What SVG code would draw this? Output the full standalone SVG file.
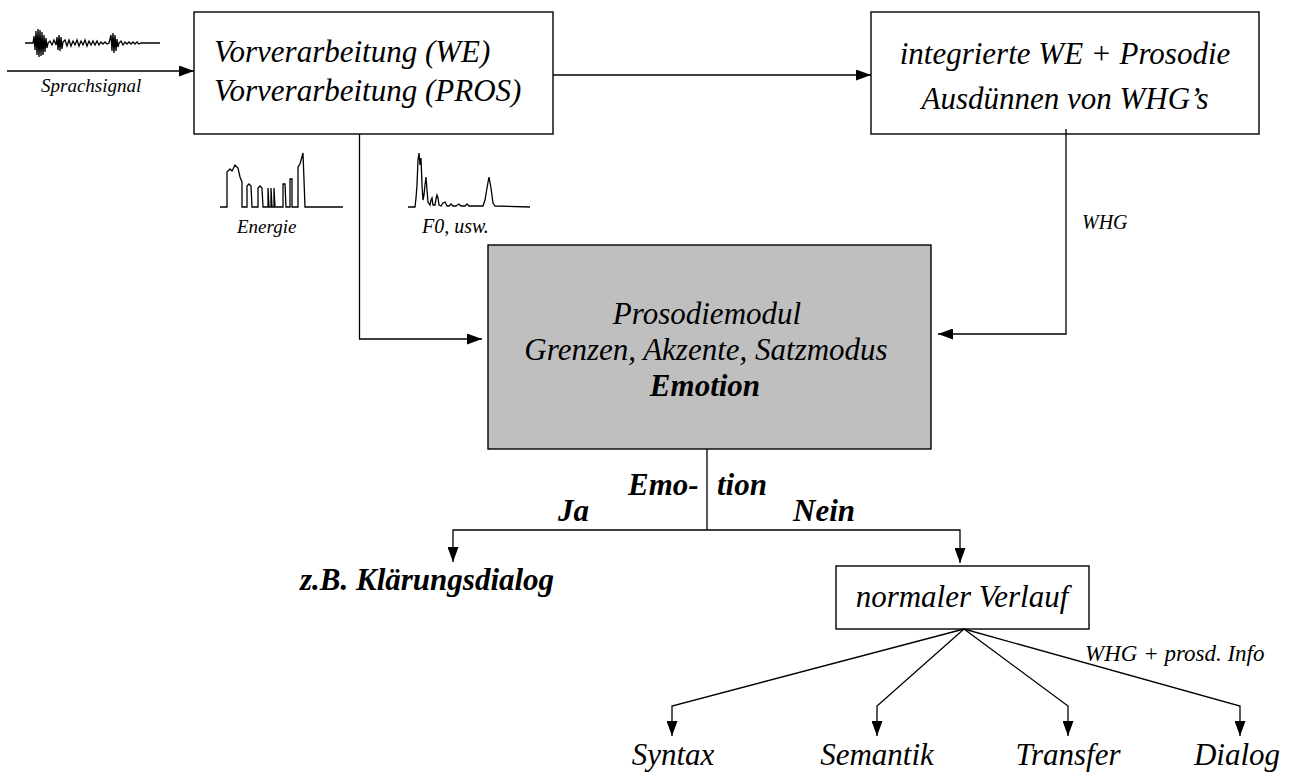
<svg xmlns="http://www.w3.org/2000/svg" width="1294" height="776" viewBox="0 0 1294 776">
  <style>
    .box { fill: #ffffff; stroke: #000000; stroke-width: 1.4; }
    .gray { fill: #bfbfbf; stroke: #000000; stroke-width: 1.4; }
    .line { fill: none; stroke: #000000; stroke-width: 1.3; }
    .wave { fill: none; stroke: #000000; stroke-width: 1.3; stroke-linejoin: miter; }
    text { font-family: 'Liberation Serif', 'Times New Roman', serif; font-style: italic; fill: #000000; }
    .big { font-size: 31px; }
    .bold { font-weight: bold; }
    .small { font-size: 20px; }
  </style>
  <defs>
    <marker id="arrow" markerUnits="userSpaceOnUse" markerWidth="15" markerHeight="11" refX="15" refY="5.5" orient="auto">
      <path d="M0,0 L15,5.5 L0,11 z" fill="#000000"/>
    </marker>
  </defs>
  <rect width="1294" height="776" fill="#ffffff"/>

  <!-- input speech signal -->
  <g id="signal">
    <path class="wave" stroke-width="2.4" d="M25,43 L33,43 L34,36 L35,50 L36,31 L37,55 L38,29 L39,57 L40,30 L41,56 L42,32 L43,55 L44,35 L45,52 L46,38 L47,48 L48,43 L50,41 L52,45 L54,40 L56,45 L57,37 L58,50 L59,35 L60,51 L61,37 L62,49 L63,42 L65,40 L67,46 L69,40 L71,46 L73,41 L75,45 L77,40 L79,46 L81,41 L83,45 L85,40 L87,46 L89,41 L91,45 L93,41 L95,45 L97,41 L99,45 L101,42 L103,44 L105,42 L107,44 L109,43 L110,39 L111,35 L112,51 L113,33 L114,53 L115,35 L116,51 L117,39 L118,47 L119,43 L121,41 L123,45 L125,42 L127,44 L129,42 L131,44 L133,42 L135,44 L137,42 L139,44 L141,43 L160,43"/>
    <text x="41" y="92" font-size="19">Sprachsignal</text>
  </g>

  <!-- preprocessing -->
  <g id="vorverarbeitung">
    <rect class="box" x="194" y="12" width="359" height="122"/>
    <text class="big" x="214" y="62">Vorverarbeitung (WE)</text>
    <text class="big" x="214" y="101">Vorverarbeitung (PROS)</text>
  </g>

  <!-- integrated word recognition + prosody -->
  <g id="integriert">
    <rect class="box" x="871" y="12" width="388" height="122"/>
    <text class="big" x="1065" y="64" text-anchor="middle">integrierte WE + Prosodie</text>
    <text class="big" x="1065" y="109" text-anchor="middle">Ausdünnen von WHG’s</text>
  </g>

  <!-- energy contour -->
  <g id="energie">
    <path class="wave" d="M220,207 L227,207 L227,172 L230,169 L232,171 L235,165 L238,168 L240,177 L242,182 L242,207 L247,207 L247,186 L249,184 L251,186 L252,207 L258,207 L258,188 L260,186 L262,188 L263,207 L268,207 L268,188 L269,207 L271,207 L271,188 L272,207 L274,207 L274,188 L275,207 L283,207 L283,184 L285,184 L286,207 L290,207 L290,179 L292,179 L292,207 L298,207 L298,167 L300,164 L303,153 L305,207 L343,207"/>
    <text x="237" y="233" font-size="19">Energie</text>
  </g>

  <!-- F0 contour -->
  <g id="f0">
    <path class="wave" d="M408,207 L415,207 L416,198 L417,185 L418,160 L419,153 L420,165 L421,158 L422,185 L423,200 L424,195 L425,185 L426,177 L427,190 L428,202 L430,205 L431,200 L432,198 L433,205 L435,205 L436,199 L437,195 L438,198 L439,205 L441,206 L443,203 L445,202 L447,206 L449,206 L451,204 L453,206 L456,206 L459,204 L461,206 L465,206 L467,204 L469,206 L483,206 L485,200 L487,188 L489,177 L491,188 L493,203 L495,206 L530,207"/>
    <text class="small" x="422" y="233">F0, usw.</text>
  </g>

  <!-- prosody module -->
  <g id="prosodiemodul">
    <rect class="gray" x="488" y="245" width="443" height="204"/>
    <text class="big" x="707" y="324" text-anchor="middle">Prosodiemodul</text>
    <text class="big" x="706" y="360" text-anchor="middle">Grenzen, Akzente, Satzmodus</text>
    <text class="big bold" x="705" y="396" text-anchor="middle">Emotion</text>
  </g>

  <!-- clarification dialogue -->
  <g id="klaerungsdialog">
    <text class="big bold" x="300" y="590">z.B. Klärungsdialog</text>
  </g>

  <!-- normal course -->
  <g id="normaler-verlauf">
    <rect class="box" x="836" y="566" width="253" height="63"/>
    <text class="big" x="962" y="607" text-anchor="middle">normaler Verlauf</text>
  </g>

  <!-- downstream modules -->
  <g id="syntax"><text class="big" x="673" y="765" text-anchor="middle">Syntax</text></g>
  <g id="semantik"><text class="big" x="877" y="765" text-anchor="middle">Semantik</text></g>
  <g id="transfer"><text class="big" x="1068" y="765" text-anchor="middle">Transfer</text></g>
  <g id="dialog"><text class="big" x="1237" y="765" text-anchor="middle">Dialog</text></g>

  <!-- connectors -->
  <g id="connectors">
    <line class="line" x1="7" y1="71" x2="194" y2="71" marker-end="url(#arrow)"/>
    <line class="line" x1="553" y1="75" x2="871" y2="75" marker-end="url(#arrow)"/>
    <polyline class="line" points="359.5,134 359.5,339 482,339" marker-end="url(#arrow)"/>
    <polyline class="line" points="1066,129 1066,334 938,334" marker-end="url(#arrow)"/>
    <text class="small" x="1082" y="229">WHG</text>

    <line class="line" x1="707" y1="449" x2="707" y2="530"/>
    <polyline class="line" points="707,530 453,530 453,562" marker-end="url(#arrow)"/>
    <polyline class="line" points="707,530 960,530 960,563" marker-end="url(#arrow)"/>
    <text class="big bold" x="628" y="495">Emo-</text>
    <text class="big bold" x="717" y="495">tion</text>
    <text class="big bold" x="558" y="521">Ja</text>
    <text class="big bold" x="793" y="521">Nein</text>

    <polyline class="line" points="964,629 672,706 672,736" marker-end="url(#arrow)"/>
    <polyline class="line" points="964,629 877,706 877,736" marker-end="url(#arrow)"/>
    <polyline class="line" points="964,629 1068,706 1068,736" marker-end="url(#arrow)"/>
    <polyline class="line" points="964,629 1240,706 1240,736" marker-end="url(#arrow)"/>
    <text x="1085" y="661" font-size="23">WHG + prosd. Info</text>
  </g>
</svg>
